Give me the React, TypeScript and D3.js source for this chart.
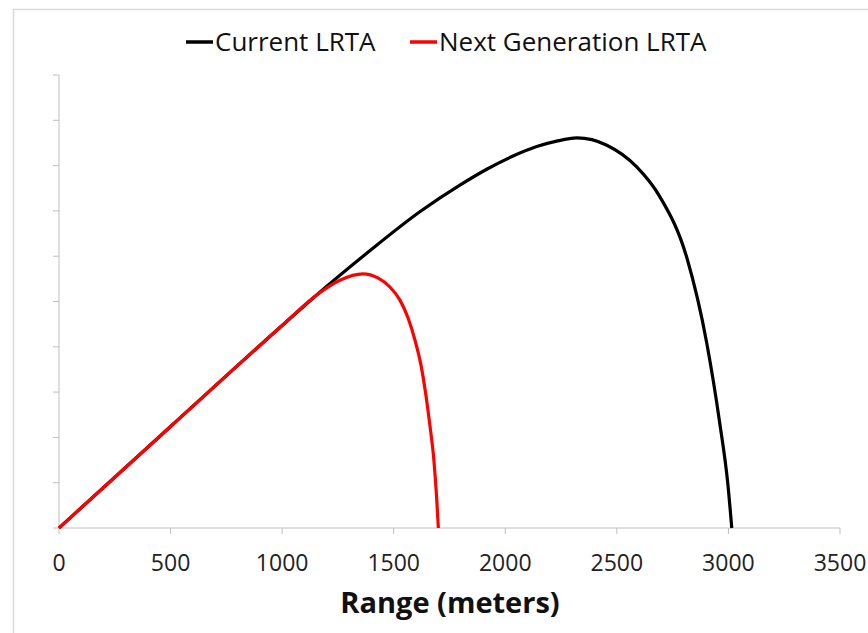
import React from "react";
import * as d3 from "d3";

const xTicks = [0, 500, 1000, 1500, 2000, 2500, 3000, 3500];
const yTicks = [0, 100, 200, 300, 400, 500, 600, 700, 800, 900, 1000];

const currentRange = [0, 500, 1000, 1156, 1393, 1617, 1800, 1917, 2030, 2141, 2230, 2321, 2455, 2589, 2693, 2814, 2903, 2961, 2997, 3015];
const currentValue = [0, 224, 447, 515, 612, 698, 758, 792, 820, 842, 854, 861, 845, 797, 731, 596, 408, 232, 99, 0];

const nextRange = [0, 500, 1000, 1156, 1259, 1362, 1429, 1483, 1528, 1564, 1595, 1622, 1644, 1662, 1680, 1693, 1700];
const nextValue = [0, 224, 447, 515, 547, 561, 552, 532, 503, 464, 415, 360, 294, 227, 150, 62, 0];

const seriesNames = ["Current LRTA", "Next Generation LRTA"];
const seriesColors = ["#000000", "#ff0000"];

const W = 868;
const H = 633;
const FONT = "'Open Sans', 'Noto Sans', sans-serif";

export default function App() {
  const x = d3.scaleLinear().domain([0, 3500]).range([59, 840]);
  const y = d3.scaleLinear().domain([0, 1000]).range([528, 75]);
  const line = d3
    .line<[number, number]>()
    .x((d) => x(d[0]))
    .y((d) => y(d[1]))
    .curve(d3.curveMonotoneX);

  const cur: [number, number][] = currentRange.map((r, i) => [r, currentValue[i]]);
  const nxt: [number, number][] = nextRange.map((r, i) => [r, nextValue[i]]);
  const axisColor = "#bfbfbf";

  return (
    <svg
      width={W}
      height={H}
      style={{ position: "absolute", left: 0, top: 0, background: "#fff" }}
      fontFamily={FONT}
    >
      <rect x={0} y={0} width={W} height={H} fill="#fff" />
      {/* frame */}
      <path d={`M13.5,${H} L13.5,9.5 L${W},9.5`} fill="none" stroke="#d9d9d9" strokeWidth={1.5} />

      {/* y axis */}
      <line x1={x(0)} x2={x(0)} y1={y(1000)} y2={y(0)} stroke={axisColor} strokeWidth={1} />
      {yTicks.map((t) => (
        <line key={"yt" + t} x1={x(0) - 6} x2={x(0)} y1={y(t)} y2={y(t)} stroke={axisColor} strokeWidth={1} />
      ))}

      {/* x axis */}
      <line x1={x(0)} x2={x(3500)} y1={y(0)} y2={y(0)} stroke={axisColor} strokeWidth={1} />
      {xTicks.map((t) => (
        <g key={"xt" + t}>
          <line x1={x(t)} x2={x(t)} y1={y(0)} y2={y(0) + 6} stroke={axisColor} strokeWidth={1} />
          <text x={x(t)} y={571} textAnchor="middle" fontSize={23} fill="#222">
            {t}
          </text>
        </g>
      ))}

      <text x={450} y={613} textAnchor="middle" fontSize={29} fontWeight="bold" fill="#111">
        Range (meters)
      </text>

      {/* series */}
      <path d={line(cur) || ""} fill="none" stroke={seriesColors[0]} strokeWidth={3.2} />
      <path d={line(nxt) || ""} fill="none" stroke={seriesColors[1]} strokeWidth={3.2} />

      {/* legend */}
      <line x1={186} x2={213} y1={42} y2={42} stroke={seriesColors[0]} strokeWidth={3.5} />
      <text x={215} y={51} fontSize={26} fill="#111">
        {seriesNames[0]}
      </text>
      <line x1={410} x2={437} y1={42} y2={42} stroke={seriesColors[1]} strokeWidth={3.5} />
      <text x={439} y={51} fontSize={26} fill="#111">
        {seriesNames[1]}
      </text>
    </svg>
  );
}
